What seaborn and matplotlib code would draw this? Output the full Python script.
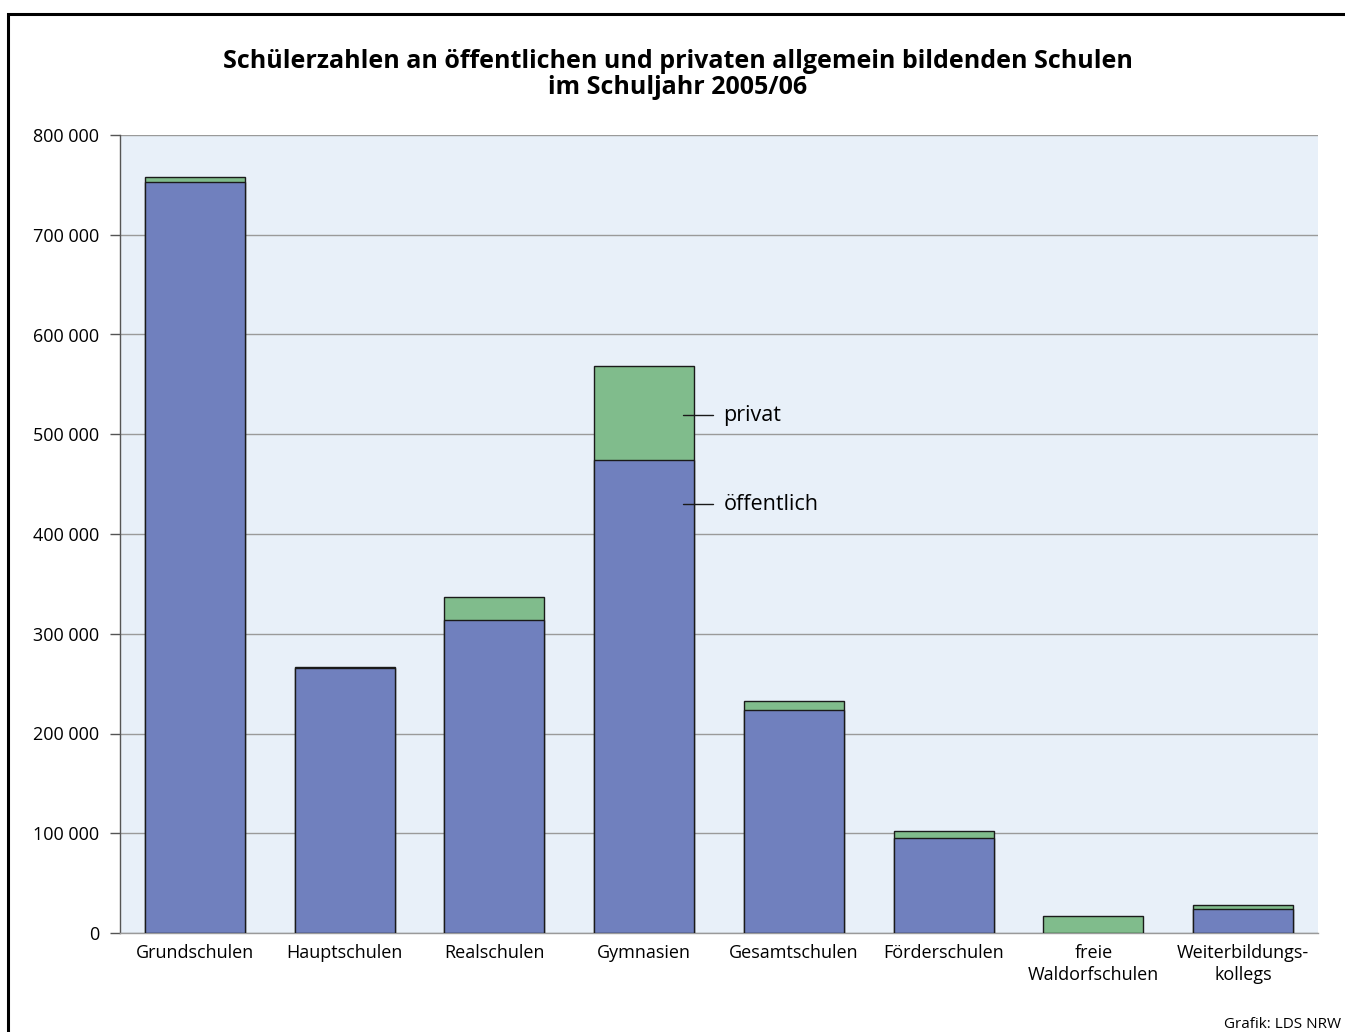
"""
Schülerzahlen an öffentlichen und privaten allgemein bildenden Schulen 2005/06
Stacked bars (öffentlich + privat) drawn with seaborn.
"""

import numpy as np
import pandas as pd
import matplotlib
matplotlib.use('Agg')
import matplotlib.pyplot as plt
import seaborn as sns
from matplotlib.patches import Rectangle
from matplotlib.ticker import FuncFormatter

# -------------------------------
# DATA
# -------------------------------
schulformen = ['Grundschulen', 'Hauptschulen', 'Realschulen', 'Gymnasien',
               'Gesamtschulen', 'Förderschulen', 'freie\nWaldorfschulen',
               'Weiterbildungs-\nkollegs']
oeffentlich = [752600, 265500, 314100, 473900, 223900, 95200, 0, 23800]
privat = [5000, 1500, 23000, 94500, 9000, 7100, 17400, 4000]
y_ticks = [0, 100000, 200000, 300000, 400000, 500000, 600000, 700000, 800000]

BLUE = '#7080BE'
GREEN = '#80BC8C'
BG = '#E8F0F9'

df = pd.DataFrame({'Schulform': schulformen,
                   'oeffentlich': oeffentlich,
                   'privat': privat})
df['gesamt'] = df['oeffentlich'] + df['privat']

# -------------------------------
# FIGURE
# -------------------------------
sns.set_style('white')
plt.rcParams['font.family'] = ['Open Sans', 'DejaVu Sans']
plt.rcParams['text.color'] = 'black'
plt.rcParams['xtick.color'] = 'black'
plt.rcParams['ytick.color'] = 'black'

fig = plt.figure(figsize=(13.45, 10.32), dpi=100)
ax = fig.add_axes([120 / 1345, 1 - 933 / 1032, 1198 / 1345, 798 / 1032])
ax.set_facecolor(BG)

# total first (green), public on top (blue)
sns.barplot(data=df, x='Schulform', y='gesamt', color=GREEN, width=0.667,
            edgecolor='#1a1a1a', linewidth=1.0, saturation=1, ax=ax, zorder=3)
sns.barplot(data=df[df['oeffentlich'] > 0], x='Schulform', y='oeffentlich',
            order=schulformen, color=BLUE, width=0.667,
            edgecolor='#1a1a1a', linewidth=1.0, saturation=1, ax=ax, zorder=4)

ax.set_ylim(0, 800000)
ax.set_xlim(-0.5, len(schulformen) - 0.5)
ax.set_yticks(y_ticks)
ax.yaxis.set_major_formatter(FuncFormatter(lambda v, p: f'{int(v):,}'.replace(',', ' ')))
ax.grid(axis='y', color='#9a9a9a', linewidth=1.0, zorder=1)
ax.set_axisbelow(True)

for s in ['top', 'right']:
    ax.spines[s].set_visible(False)
ax.spines['left'].set_color('#555555')
ax.spines['left'].set_linewidth(1.0)
ax.spines['bottom'].set_color('#9a9a9a')
ax.spines['bottom'].set_linewidth(1.0)

ax.tick_params(axis='y', length=7, width=1, color='#555555', pad=8,
               labelsize=13, direction='out', left=True, labelcolor='black')
ax.tick_params(axis='x', length=0, pad=8, labelsize=13, labelcolor='black')
for lbl in ax.get_xticklabels():
    lbl.set_linespacing(1.25)
ax.set_xlabel('')
ax.set_ylabel('')

# labels privat / öffentlich at Gymnasien bar
gi = schulformen.index('Gymnasien')
priv_mid = oeffentlich[gi] + privat[gi] * 0.48
ax.plot([gi + 0.26, gi + 0.46], [priv_mid, priv_mid], color='#1a1a1a', lw=1.0, zorder=6)
ax.text(gi + 0.53, priv_mid, 'privat', va='center', ha='left', fontsize=15.5, zorder=6)
oeff_mid = oeffentlich[gi] - 44000
ax.plot([gi + 0.26, gi + 0.46], [oeff_mid, oeff_mid], color='#1a1a1a', lw=1.0, zorder=6)
ax.text(gi + 0.53, oeff_mid, 'öffentlich', va='center', ha='left', fontsize=15.5, zorder=6)

# title
fig.text(678 / 1345, 1 - 62 / 1032,
         'Schülerzahlen an öffentlichen und privaten allgemein bildenden Schulen',
         ha='center', va='center', fontsize=18, fontweight='bold')
fig.text(678 / 1345, 1 - 88 / 1032, 'im Schuljahr 2005/06',
         ha='center', va='center', fontsize=18, fontweight='bold')

# source
fig.text(1341 / 1345, 1 - 1024 / 1032, 'Grafik: LDS NRW',
         ha='right', va='center', fontsize=11)

# outer frame (runs off the right and bottom edge)
fig.patches.append(Rectangle((8 / 1345, -0.05), 1.1, 1 - 14 / 1032 + 0.05,
                             transform=fig.transFigure, fill=False,
                             edgecolor='black', linewidth=2.2))

fig.savefig('out.png', dpi=100, facecolor='white')
plt.close(fig)
